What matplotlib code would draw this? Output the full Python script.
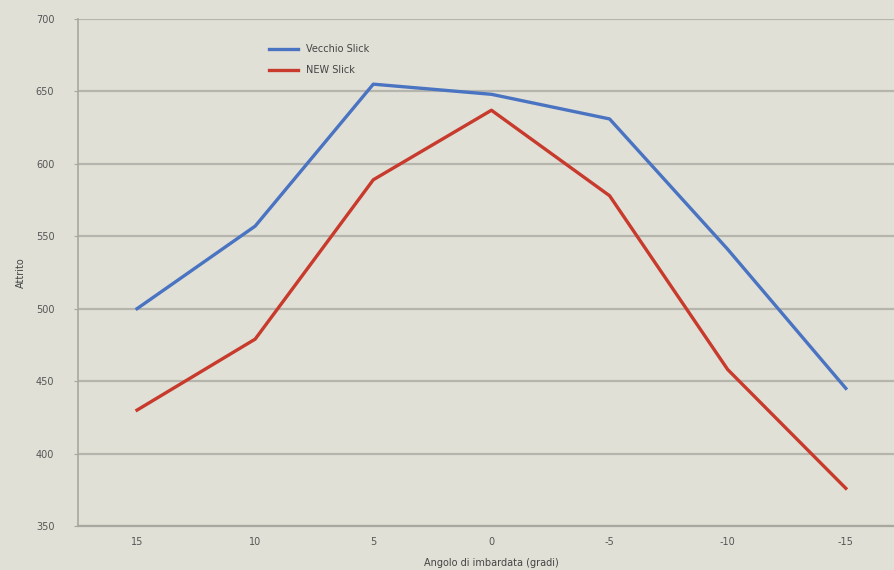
import matplotlib.pyplot as plt

angles = ['15', '10', '5', '0', '-5', '-10', '-15']
vecchio = [500, 557, 655, 648, 631, 541, 445]
new_slick = [430, 479, 589, 637, 578, 458, 376]

bg = '#e0e0d7'
fig = plt.figure(figsize=(8.94, 5.70), dpi=100, facecolor=bg)
ax = fig.add_axes([0.0872, 0.0772, 0.925, 0.8895], facecolor=bg)

x = range(len(angles))
ax.plot(x, vecchio, color='#4a74c2', lw=2.4, label='Vecchio Slick')
ax.plot(x, new_slick, color='#c73a2c', lw=2.4, label='NEW Slick')

ax.set_xlim(-0.5, len(angles) - 0.5)
ax.set_ylim(350, 700)
ax.set_yticks(range(350, 701, 50))
ax.set_xticks(list(x))
ax.set_xticklabels(angles)
ax.grid(axis='y', color='#b5b5ad', lw=1.6)
ax.set_axisbelow(True)

for s in ['top', 'right']:
    ax.spines[s].set_visible(False)
ax.spines['left'].set_color('#a8a8a0')
ax.spines['bottom'].set_color('#a8a8a0')
ax.spines['left'].set_linewidth(1.2)
ax.spines['bottom'].set_linewidth(1.6)
ax.tick_params(axis='x', length=0, pad=8, labelsize=7, labelcolor='#555555')
ax.tick_params(axis='y', length=3, color='#a8a8a0', pad=14, labelsize=7, labelcolor='#555555')

ax.set_ylabel('Attrito', fontsize=7, color='#444444', labelpad=7)
ax.set_xlabel('Angolo di imbardata (gradi)', fontsize=7, color='#444444', labelpad=8)

ax.legend(loc='upper left', bbox_to_anchor=(0.22, 0.968), frameon=False,
          fontsize=7, handlelength=3, labelcolor='#444444', labelspacing=1.15)

plt.savefig('out.png', dpi=100, facecolor=bg)
